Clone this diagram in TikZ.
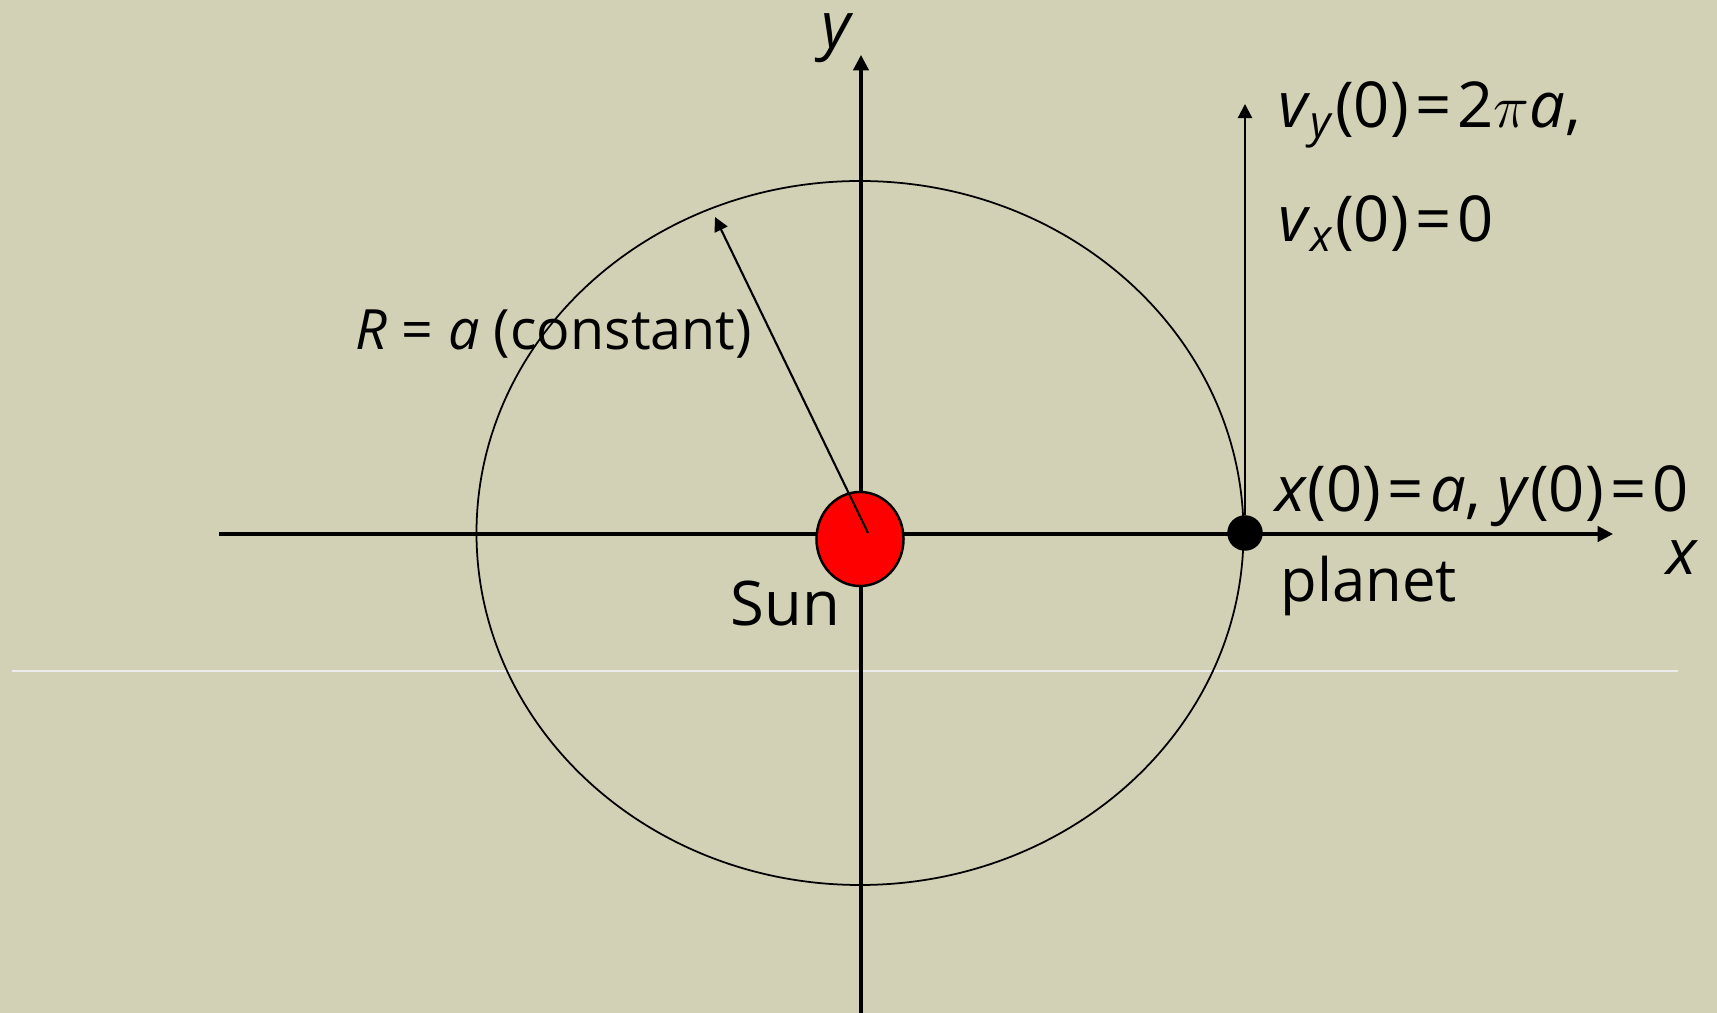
\documentclass[tikz,border=0pt]{standalone}
\usepackage{fontspec}
\setmainfont{Open Sans}
\usepackage{xcolor}
\usetikzlibrary{arrows.meta}
\usetikzlibrary{shapes.geometric}
\definecolor{parchment}{RGB}{210,208,181}
\definecolor{sunred}{RGB}{255,0,0}
\newcommand{\eqsign}{\kern0.1em=\kern0.1em}

\begin{document}
\begin{tikzpicture}[
  x=0.01cm, y=-0.01cm,
  every node/.style={font=\fontsize{17}{20}\selectfont, inner sep=0pt},
  label/.style={anchor=base west},
  big label/.style={anchor=base west, font=\fontsize{18}{21}\selectfont},
  axis/.style={line width=0.9pt, -{Triangle[length=4.4pt, width=4.4pt]}},
  thin arrow/.style={line width=0.6pt, -{Triangle[length=4pt, width=4pt]}},
  orbit/.style={line width=0.5pt},
  body/.style={draw, line width=0.7pt}
]
\useasboundingbox (0,0) rectangle (1717,1013);
\fill[parchment] (0,0) rectangle (1717,1013);
\draw[white!85!gray, line width=0.4pt] (12,671) -- (1678,671);

\coordinate (xstart) at (219,534);
\coordinate (xend) at (1613,534);
\coordinate (ystart) at (861,1013);
\coordinate (yend) at (861,55);
\coordinate (vtip) at (1245,104);
\coordinate (rbase) at (868,533);
\coordinate (rtip) at (715,217);

\draw[orbit] (860,533) ellipse [x radius=383.5, y radius=-352];
\draw[axis] (xstart) -- (xend);
\draw[axis] (ystart) -- (yend);

\node[body, ellipse, fill=sunred, minimum width=0.87cm, minimum height=0.94cm] (sun) at (860,539) {};
\node[body, circle, fill=black, minimum size=0.33cm] (planet) at (1245,533) {};

\draw[thin arrow] (planet) -- (vtip);
\draw[thin arrow] (rbase) -- (rtip);

\node[anchor=base, font=\fontsize{18}{21}\selectfont] (ylab) at (838,48) {\textit{y}};
\node[anchor=base, font=\fontsize{18}{21}\selectfont] (xlab) at (1682,575) {\textit{x}};
\node[big label] (vy) at (1278,128) {\textit{v}\textsubscript{\textit{y}}(0)\eqsign2$\pi$\textit{a},};
\node[big label] (vx) at (1278,242) {\textit{v}\textsubscript{\textit{x}}(0)\eqsign0};
\node[big label] (init) at (1275,512) {\textit{x}(0)\eqsign\textit{a}, \textit{y}(0)\eqsign0};
\node[label] (planetlab) at (1280,602) {planet};
\node[label, font=\fontsize{15.8}{19}\selectfont] (rlab) at (355,350) {\textit{R} = \textit{a} (constant)};
\node[label, font=\fontsize{17.5}{20}\selectfont] (sunlab) at (730,626) {Sun};
\end{tikzpicture}
\end{document}
